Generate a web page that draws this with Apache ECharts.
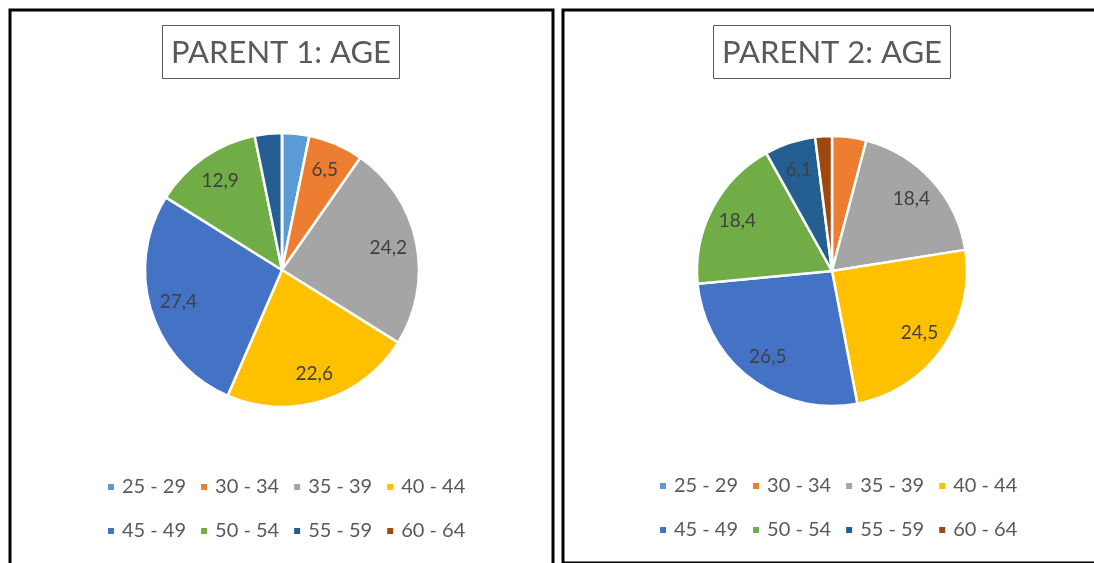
<!DOCTYPE html>
<html>
<head>
<meta charset="utf-8">
<script src="https://cdn.jsdelivr.net/npm/echarts@6/dist/echarts.min.js"></script>
<style>
  html, body { margin: 0; padding: 0; background: #fff; }
  #main { width: 1094px; height: 563px; }
</style>
</head>
<body>
<div id="main"></div>
<script type="text/javascript">
	// age groups and shares (%) for each parent
	var ageGroups = ['25 - 29', '30 - 34', '35 - 39', '40 - 44', '45 - 49', '50 - 54', '55 - 59', '60 - 64'];
	var parent1 = [3.2, 6.5, 24.2, 22.6, 27.4, 12.9, 3.2, 0];
	var parent2 = [0, 4.1, 18.4, 24.5, 26.5, 18.4, 6.1, 2.0];
	var titles = ['PARENT 1: AGE', 'PARENT 2: AGE'];

	var colors = ['#5B9BD5', '#ED7D31', '#A5A5A5', '#FFC000', '#4472C4', '#70AD47', '#255E91', '#9E480E'];
	var font = 'Lato, "Open Sans", sans-serif';

	var myChart = echarts.init(document.getElementById('main'));

	function toData(vals) {
		return ageGroups.map(function (name, i) {
			return { name: name, value: vals[i] };
		});
	}

	// excel-style: labels for small slices left out
	function labelData(vals) {
		return ageGroups.map(function (name, i) {
			return { name: name, value: vals[i], label: { show: vals[i] >= 5 } };
		});
	}

	function pieSeries(vals, cx, cy, r) {
		return [{
			type: 'pie',
			center: [cx, cy],
			radius: [0, r],
			startAngle: 90,
			clockwise: true,
			avoidLabelOverlap: false,
			silent: true,
			label: { show: false },
			labelLine: { show: false },
			itemStyle: { borderColor: '#fff', borderWidth: 2.5 },
			data: toData(vals)
		}, {
			// invisible ring only to put the labels further out
			type: 'pie',
			center: [cx, cy],
			radius: [r * 0.54, r],
			startAngle: 90,
			clockwise: true,
			avoidLabelOverlap: false,
			silent: true,
			itemStyle: { color: 'rgba(0,0,0,0)' },
			label: {
				position: 'inside',
				color: '#404040',
				fontFamily: font,
				fontSize: 19,
				formatter: function (p) { return String(p.value).replace('.', ','); }
			},
			labelLine: { show: false },
			data: labelData(vals)
		}];
	}

	function legendRow(names, left, top) {
		return {
			data: names,
			left: left,
			top: top,
			orient: 'horizontal',
			icon: 'rect',
			itemWidth: 8,
			itemHeight: 8,
			itemGap: 13,
			selectedMode: false,
			textStyle: { color: '#595959', fontFamily: font, fontSize: 20, padding: [0, 0, 0, 2] }
		};
	}

	function titleBox(text, cx) {
		return {
			text: text,
			left: cx,
			top: 25,
			textAlign: 'center',
			padding: [12, 9, 11, 9],
			borderColor: '#595959',
			borderWidth: 1,
			textStyle: { color: '#595959', fontFamily: font, fontSize: 31, fontWeight: 'normal' }
		};
	}

	var row1 = ageGroups.slice(0, 4);
	var row2 = ageGroups.slice(4);

	myChart.setOption({
		animation: false,
		color: colors,
		title: [titleBox(titles[0], 272), titleBox(titles[1], 823)],
		legend: [
			legendRow(row1, 101, 472),
			legendRow(row2, 101, 516),
			legendRow(row1, 653, 471),
			legendRow(row2, 653, 515)
		],
		graphic: [
			{ type: 'rect', shape: { x: 10, y: 10, width: 543, height: 600 }, style: { fill: 'none', stroke: '#000', lineWidth: 3 } },
			{ type: 'rect', shape: { x: 563, y: 10, width: 600, height: 553 }, style: { fill: 'none', stroke: '#000', lineWidth: 3 } }
		],
		series: pieSeries(parent1, 282, 270, 137).concat(pieSeries(parent2, 832, 271, 135))
	});
</script>
</body>
</html>
